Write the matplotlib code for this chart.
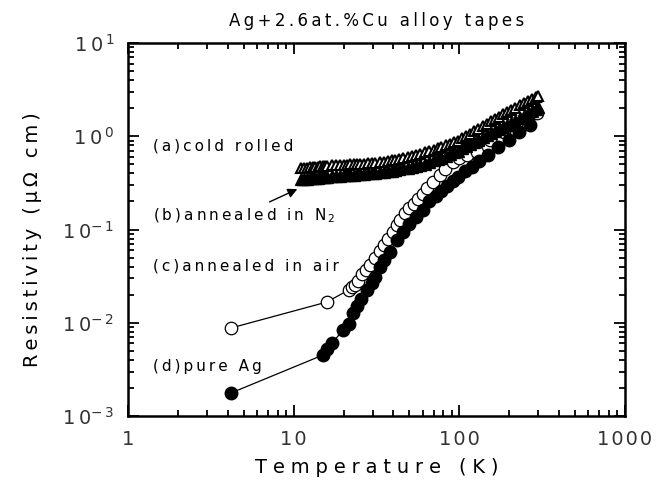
import matplotlib
matplotlib.use("Agg")
import matplotlib.pyplot as plt
from matplotlib.ticker import LogLocator, FixedLocator, NullFormatter

# ---- data ----
T_ab = [11, 11.5, 12, 12.5, 13, 13.5, 14, 14.5, 15, 15.5, 16, 17, 18, 19, 20, 21, 22, 23, 24, 25,
        26.5, 28, 29.5, 31, 33, 35, 37, 39, 41, 43.5, 46, 49, 52, 55, 58, 62, 66, 70, 74, 78,
        83, 88, 93, 98, 104, 110, 116, 123, 130, 138, 146, 155, 164, 174, 184, 195, 206, 218,
        231, 245, 259, 274, 290, 300]
rho_a = [0.455, 0.458, 0.461, 0.464, 0.467, 0.47, 0.473, 0.476, 0.479, 0.482, 0.485, 0.488,
         0.49, 0.492, 0.494, 0.496, 0.498, 0.499, 0.50, 0.503, 0.507, 0.511, 0.516, 0.521,
         0.528, 0.535, 0.542, 0.551, 0.56, 0.572, 0.585, 0.60, 0.615, 0.63, 0.648, 0.67,
         0.695, 0.72, 0.745, 0.77, 0.80, 0.83, 0.865, 0.90, 0.95, 1.0, 1.06, 1.13, 1.2, 1.28,
         1.36, 1.45, 1.53, 1.62, 1.72, 1.82, 1.93, 2.03, 2.15, 2.27, 2.39, 2.51, 2.63, 2.7]
rho_b = [0.345, 0.348, 0.351, 0.354, 0.356, 0.358, 0.36, 0.362, 0.364, 0.366, 0.368, 0.371,
         0.374, 0.377, 0.380, 0.383, 0.385, 0.388, 0.39, 0.393, 0.397, 0.40, 0.404, 0.408,
         0.413, 0.418, 0.423, 0.428, 0.434, 0.442, 0.451, 0.462, 0.473, 0.484, 0.495, 0.51,
         0.53, 0.55, 0.57, 0.59, 0.615, 0.64, 0.67, 0.70, 0.74, 0.78, 0.82, 0.87, 0.92, 0.97,
         1.02, 1.08, 1.13, 1.19, 1.26, 1.32, 1.39, 1.47, 1.56, 1.66, 1.76, 1.87, 1.98, 2.05]
T_c = [4.2, 15.9, 21.5, 22.5, 23.5, 24.5, 26, 27.5, 29, 31, 33, 35, 37, 39.5, 42, 44, 47, 50,
       53, 56, 60, 64, 69, 76, 82, 91, 100, 112, 128, 153, 185, 221, 260, 293]
rho_c = [0.0088, 0.0167, 0.0225, 0.0240, 0.0255, 0.028, 0.033, 0.037, 0.042, 0.050, 0.059,
         0.068, 0.080, 0.095, 0.112, 0.127, 0.150, 0.172, 0.19, 0.21, 0.24, 0.28, 0.32, 0.385,
         0.44, 0.53, 0.58, 0.63, 0.68, 0.91, 1.1, 1.32, 1.55, 1.78]
T_d = [4.2, 15, 16, 17, 19.8, 21.5, 22.7, 24, 25.5, 27.6, 29.5, 31, 33, 35, 38, 42, 46, 50,
       55, 60, 66, 72, 78, 84, 91, 98, 108, 120, 132, 149, 170, 200, 230, 266]
rho_d = [0.00177, 0.0045, 0.0052, 0.006, 0.0083, 0.0098, 0.0128, 0.0150, 0.018, 0.0225, 0.027,
         0.031, 0.040, 0.047, 0.058, 0.077, 0.095, 0.114, 0.137, 0.160, 0.20, 0.23, 0.26, 0.29,
         0.33, 0.37, 0.42, 0.47, 0.54, 0.63, 0.76, 0.91, 1.1, 1.32]

xticks = [1, 10, 100, 1000]
xticklabels = ["1", "10", "100", "1000"]
yticks = [1e-3, 1e-2, 1e-1, 1e0, 1e1]
yexp = [-3, -2, -1, 0, 1]

title = "Ag+2.6at.%Cu alloy tapes"
xlabel = "Temperature (K)"
ylabel = "Resistivity (\u03bc\u03a9 cm)"
label_a = "(a)cold rolled"
label_b = "(b)annealed in N"
label_c = "(c)annealed in air"
label_d = "(d)pure Ag"


def sp(s, gap="\u2009"):
    return gap.join(s)


plt.rcParams['font.family'] = ['DejaVu Sans']
plt.rcParams['mathtext.default'] = 'regular'

fig = plt.figure(figsize=(6.57, 4.84), dpi=100)
ax = fig.add_axes([128/657, 1-416/484, 497/657, 373/484])

ax.plot(T_c, rho_c, '-', color='black', lw=0.9, marker='o', ms=9, mfc='white',
        mec='black', mew=0.9, zorder=3)
ax.plot(T_d, rho_d, '-', color='black', lw=0.9, marker='o', ms=9, mfc='black',
        mec='black', zorder=3)
ax.plot(T_ab, rho_a, ls='none', marker='^', ms=6.5, mfc='white', mec='black', mew=1.5, zorder=4)
ax.plot(T_ab, rho_b, ls='none', marker='^', ms=8.5, mfc='black', mec='black', zorder=5)

ax.set_xscale('log')
ax.set_yscale('log')
ax.set_xlim(1, 1000)
ax.set_ylim(1e-3, 1e1)

ax.xaxis.set_major_locator(FixedLocator(xticks))
ax.set_xticklabels([sp(t, "\u200a") for t in xticklabels])
ax.xaxis.set_minor_locator(LogLocator(base=10, subs=range(2, 10)))
ax.xaxis.set_minor_formatter(NullFormatter())
ax.yaxis.set_major_locator(FixedLocator(yticks))
ax.set_yticklabels([sp("10") + (r"$^{\,%d}$" % e if e >= 0 else r"$^{-\,%d}$" % (-e))
                    for e in yexp])
ax.yaxis.set_minor_locator(LogLocator(base=10, subs=range(2, 10)))
ax.yaxis.set_minor_formatter(NullFormatter())

ax.tick_params(which='both', direction='in', top=True, right=True, width=1.3)
ax.tick_params(which='major', length=8, labelsize=14, pad=10, colors='black')
ax.tick_params(which='minor', length=4)
for lab in ax.get_xticklabels() + ax.get_yticklabels():
    lab.set_color('#333333')
for s in ax.spines.values():
    s.set_linewidth(1.8)

ax.set_xlabel(sp(xlabel, "\u2009\u200a"), fontsize=14)
ax.xaxis.set_label_coords(0.5, -0.112)
ax.set_ylabel(sp(ylabel), fontsize=14)
ax.yaxis.set_label_coords(-0.173, 0.472)
ax.set_title(sp(title), fontsize=12, pad=12)

ys = [0.724, 0.536, 0.402, 0.134]
texts = [sp(label_a), sp(label_b) + r"$_{\,2}$", sp(label_c), sp(label_d)]
for lab, y in zip(texts, ys):
    ax.text(0.05, y, lab, transform=ax.transAxes, fontsize=11, va='center', ha='left')

ax.annotate("", xy=(10.9, 0.279), xytext=(6.9, 0.192),
            arrowprops=dict(arrowstyle='-|>', color='black', lw=1.0, mutation_scale=14))

fig.savefig("out.png", dpi=100)
